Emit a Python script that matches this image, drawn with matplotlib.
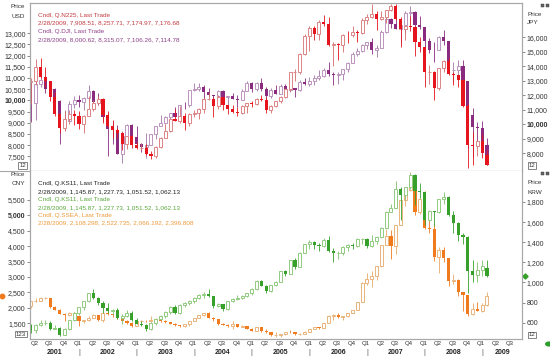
import numpy as np
import pandas as pd
from matplotlib import pyplot as plt
from matplotlib import transforms
from matplotlib.patches import Rectangle, Circle
from matplotlib.lines import Line2D

plt.rcParams['font.family'] = ['Liberation Sans', 'DejaVu Sans']

# monthly bars, Mar 2001 .. Feb 2009
first_month = '2001-03'

dji_open = [10495, 9879, 10735, 10912, 10502, 10523, 9950, 8848, 9075, 9852,
            10022, 9920, 10106, 10404, 9946, 9925, 9243, 8737, 8664, 7592, 8397, 8896,
            8342, 8054, 7891, 7992, 8480, 8850, 8985, 9233, 9416, 9275, 9801, 9782,
            10454, 10488, 10584, 10358, 10226, 10188, 10435, 10140, 10174, 10080, 10027, 10428,
            10783, 10490, 10766, 10504, 10193, 10467, 10275, 10641, 10482, 10569, 10440, 10806,
            10718, 10864, 10993, 11109, 11367, 11168, 11150, 11185, 11381, 11679, 12081, 12221,
            12463, 12621, 12269, 12354, 13063, 13628, 13409, 13212, 13358, 13896, 13930, 13372,
            13265, 12650, 12266, 12263, 12820, 12638, 11350, 11378, 11544, 10851, 9325, 8829,
            8776, 8001]
dji_high = [10858, 10872, 11350, 11076, 10671, 10555, 10019, 9555, 9985, 10184,
            10260, 10145, 10673, 10460, 10341, 9955, 9379, 9077, 8888, 8607, 8946, 8950,
            8870, 8108, 8522, 8510, 8866, 9336, 9284, 9428, 9686, 9813, 9933, 10462,
            10754, 10753, 10679, 10570, 10256, 10479, 10443, 10198, 10345, 10240, 10508, 10868,
            10830, 10841, 10984, 10595, 10542, 10705, 10720, 10720, 10719, 10569, 10931, 10984,
            11048, 11137, 11334, 11425, 11709, 11247, 11262, 11410, 11719, 12163, 12361, 12529,
            12622, 12795, 12476, 13163, 13692, 13693, 14022, 13498, 14000, 14198, 13975, 13779,
            13280, 12767, 12622, 12891, 13136, 12638, 11697, 11782, 11790, 10882, 9654, 9026,
            9088, 8315]
dji_low = [9047, 9106, 10576, 10343, 10176, 9900, 8062, 8659, 9064, 9654,
           9692, 9574, 10031, 9727, 9808, 9066, 7532, 8044, 7591, 7197, 8254, 8232,
           7946, 7673, 7416, 7992, 8289, 8850, 8933, 9013, 9276, 9275, 9590, 9721,
           10405, 10436, 10001, 10200, 9852, 10185, 9906, 9787, 10052, 9708, 10000, 10424,
           10368, 10403, 10404, 10012, 10094, 10271, 10270, 10397, 10378, 10156, 10406, 10700,
           10661, 10689, 10921, 11023, 11085, 10699, 10739, 10925, 11287, 11654, 11986, 12175,
           12311, 12050, 11939, 12354, 13010, 13232, 13212, 12518, 13000, 13570, 12743, 13171,
           11635, 12118, 11731, 12263, 12479, 11288, 10827, 11116, 10365, 7882, 7449, 8149,
           7909, 7106]
dji_close = [9879, 10735, 10912, 10502, 10523, 9950, 8848, 9075, 9852, 10022,
             9920, 10106, 10404, 9946, 9925, 9243, 8737, 8664, 7592, 8397, 8896, 8342,
             8054, 7891, 7992, 8480, 8850, 8985, 9233, 9416, 9275, 9801, 9782, 10454,
             10488, 10584, 10358, 10226, 10188, 10435, 10140, 10174, 10080, 10027, 10428, 10783,
             10490, 10766, 10504, 10193, 10467, 10275, 10641, 10482, 10569, 10440, 10806, 10718,
             10864, 10993, 11109, 11367, 11168, 11150, 11185, 11381, 11679, 12081, 12221, 12463,
             12621, 12269, 12354, 13063, 13628, 13409, 13212, 13358, 13896, 13930, 13372, 13265,
             12650, 12266, 12263, 12820, 12638, 11350, 11378, 11544, 10851, 9325, 8829, 8776,
             8001, 7115]

n225_open = [12883, 12999, 13934, 13262, 12969, 11860, 10713, 9774, 10366, 10697,
             10543, 9997, 10587, 11025, 11492, 11764, 10621, 9877, 9619, 9383, 8640, 9215,
             8579, 8340, 8363, 7973, 7831, 8425, 9083, 9563, 10344, 10219, 10560, 10101,
             10677, 10784, 11042, 11715, 11762, 11236, 11859, 11326, 11082, 10824, 10771, 11231,
             11489, 11388, 11741, 11669, 11009, 11277, 11584, 11900, 12414, 13574, 13607, 14872,
             16111, 16650, 16205, 17060, 16906, 15467, 15505, 15457, 16141, 16128, 16399, 16274,
             17226, 17383, 17604, 17288, 17400, 17876, 18138, 17249, 16569, 16786, 16738, 15681,
             15308, 13592, 13604, 12526, 13850, 14339, 13481, 13377, 13073, 11260, 8577, 8512,
             8860, 7909]
n225_high = [13200, 14529, 14556, 13973, 13014, 12213, 10800, 10915, 10986, 10982,
             10900, 10630, 11919, 11661, 11979, 11800, 10931, 10268, 9771, 9441, 9215, 9295,
             8810, 8700, 8650, 8150, 8500, 9137, 10050, 10400, 11033, 11238, 10800, 10750,
             11000, 11100, 11800, 12195, 11900, 11988, 11900, 11350, 11300, 11200, 11300, 11500,
             11600, 11800, 12000, 11900, 11300, 11600, 11950, 12500, 13617, 13800, 14900, 16200,
             16800, 16800, 17200, 17563, 17400, 15700, 15600, 16200, 16400, 16800, 16500, 17300,
             17600, 18300, 17800, 17800, 17900, 18300, 18300, 17400, 16800, 17500, 16800, 16000,
             15350, 14100, 13650, 13900, 14400, 14600, 13600, 13400, 13100, 11400, 9500, 8900,
             9300, 8258]
n225_low = [11434, 12737, 13190, 12554, 11593, 10590, 9382, 9504, 10035, 9924,
            9697, 9420, 10561, 10884, 11328, 10074, 9808, 9075, 9075, 8197, 8303, 8360,
            8300, 8200, 7850, 7604, 7700, 8400, 9050, 9500, 10200, 10100, 9614, 9900,
            10500, 10350, 10800, 11650, 10505, 11050, 11000, 10687, 10800, 10575, 10700, 10800,
            11200, 11300, 11600, 10800, 10800, 11200, 11500, 11800, 12300, 13000, 13500, 14800,
            15059, 15800, 15800, 16800, 15400, 14046, 14400, 15000, 15600, 16000, 15700, 16200,
            16900, 17300, 16500, 17200, 17000, 17800, 17200, 15300, 15800, 16400, 14700, 15000,
            12573, 12800, 11691, 12400, 13600, 13400, 12700, 12600, 11200, 6995, 7163, 7800,
            7670, 7175]
n225_close = [12999, 13934, 13262, 12969, 11860, 10713, 9774, 10366, 10697, 10543,
              9997, 10587, 11025, 11492, 11764, 10621, 9877, 9619, 9383, 8640, 9215, 8579,
              8340, 8363, 7973, 7831, 8425, 9083, 9563, 10344, 10219, 10560, 10101, 10677,
              10784, 11042, 11715, 11762, 11236, 11859, 11326, 11082, 10824, 10771, 11231, 11489,
              11388, 11741, 11669, 11009, 11277, 11584, 11900, 12414, 13574, 13607, 14872, 16111,
              16650, 16205, 17060, 16906, 15467, 15505, 15457, 16141, 16128, 16399, 16274, 17226,
              17383, 17604, 17288, 17400, 17876, 18138, 17249, 16569, 16786, 16738, 15681, 15308,
              13592, 13604, 12526, 13850, 14339, 13481, 13377, 13073, 11260, 8577, 8512, 8860,
              7994, 7177]

ks_open = [579, 523, 577, 595, 596, 541, 545, 479, 535, 627,
           693, 757, 819, 895, 845, 796, 742, 716, 729, 646, 669, 694,
           627, 591, 576, 535, 599, 634, 670, 708, 760, 697, 778, 796,
           811, 849, 880, 883, 862, 771, 785, 735, 817, 835, 845, 867,
           896, 932, 1011, 965, 912, 970, 1008, 1110, 1083, 1221, 1158, 1297,
           1379, 1399, 1371, 1359, 1419, 1317, 1295, 1297, 1352, 1371, 1364, 1432,
           1434, 1360, 1417, 1452, 1542, 1700, 1743, 1933, 1873, 1946, 2064, 1906,
           1897, 1624, 1711, 1704, 1825, 1852, 1674, 1594, 1474, 1448, 1113, 1076,
           1124, 1146]
ks_high = [590, 590, 630, 630, 615, 575, 560, 545, 630, 705,
           760, 820, 900, 937, 860, 815, 800, 740, 745, 690, 730, 720,
           650, 620, 590, 610, 640, 680, 720, 770, 780, 790, 810, 830,
           860, 890, 905, 936, 870, 800, 790, 820, 850, 880, 880, 900,
           940, 1020, 1022, 975, 975, 1010, 1115, 1125, 1225, 1240, 1300, 1380,
           1420, 1410, 1390, 1440, 1465, 1340, 1310, 1360, 1380, 1390, 1440, 1440,
           1440, 1470, 1460, 1550, 1710, 1780, 2005, 1950, 1950, 2085, 2080, 1990,
           1900, 1720, 1715, 1830, 1900, 1855, 1710, 1600, 1490, 1460, 1220, 1200,
           1228, 1228]
ks_low = [500, 493, 570, 580, 530, 535, 463, 475, 530, 620,
          680, 730, 810, 840, 775, 700, 700, 680, 640, 584, 660, 620,
          585, 570, 515, 530, 580, 625, 650, 690, 690, 690, 760, 780,
          800, 840, 850, 860, 745, 760, 720, 730, 810, 830, 840, 860,
          880, 925, 960, 900, 905, 960, 1000, 1060, 1080, 1130, 1150, 1290,
          1330, 1330, 1310, 1350, 1300, 1200, 1230, 1270, 1310, 1330, 1350, 1380,
          1345, 1355, 1380, 1440, 1540, 1700, 1740, 1620, 1820, 1930, 1770, 1840,
          1570, 1610, 1560, 1690, 1780, 1660, 1490, 1410, 1380, 892, 1000, 1000,
          1069, 1052]
ks_close = [523, 577, 595, 596, 541, 545, 479, 535, 627, 693,
            757, 819, 895, 845, 796, 742, 716, 729, 646, 669, 694, 627,
            591, 576, 535, 599, 634, 670, 708, 760, 697, 778, 796, 811,
            849, 880, 883, 862, 771, 785, 735, 817, 835, 845, 867, 896,
            932, 1011, 965, 912, 970, 1008, 1110, 1083, 1221, 1158, 1297, 1379,
            1399, 1371, 1359, 1419, 1317, 1295, 1297, 1352, 1371, 1364, 1432, 1434,
            1360, 1417, 1452, 1542, 1700, 1743, 1933, 1873, 1946, 2064, 1906, 1897,
            1624, 1711, 1704, 1825, 1852, 1674, 1594, 1474, 1448, 1113, 1076, 1124,
            1162, 1062]

ss_open = [2057, 2218, 2225, 2325, 2329, 2016, 1926, 1810, 1775, 1834,
           1728, 1567, 1601, 1683, 1761, 1592, 1820, 1786, 1754, 1661, 1583, 1508,
           1426, 1575, 1588, 1586, 1597, 1655, 1560, 1551, 1493, 1435, 1415, 1467,
           1572, 1670, 1759, 1829, 1675, 1633, 1469, 1455, 1409, 1467, 1386, 1408,
           1329, 1252, 1371, 1240, 1217, 1114, 1135, 1137, 1221, 1214, 1148, 1154,
           1219, 1321, 1364, 1363, 1512, 1723, 1756, 1694, 1742, 1840, 1930, 2204,
           2809, 2925, 3025, 3343, 4033, 4316, 4012, 4695, 5480, 5830, 6253, 5116,
           5525, 4602, 4566, 3647, 3878, 3605, 2873, 2915, 2517, 2409, 1815, 1965,
           1912, 2108]
ss_high = [2230, 2310, 2344, 2357, 2331, 2058, 1974, 1838, 1865, 1880,
           1733, 1617, 1733, 1785, 1764, 1835, 1838, 1796, 1764, 1670, 1617, 1533,
           1586, 1596, 1607, 1731, 1670, 1659, 1607, 1554, 1502, 1449, 1481, 1575,
           1680, 1775, 1848, 1872, 1690, 1648, 1523, 1470, 1575, 1470, 1449, 1418,
           1344, 1386, 1376, 1313, 1218, 1203, 1145, 1229, 1284, 1218, 1176, 1239,
           1323, 1371, 1365, 1517, 1764, 1811, 1845, 1743, 1848, 1932, 2205, 2835,
           3144, 3203, 3360, 4043, 4553, 4528, 4696, 5492, 5840, 6390, 6260, 5565,
           5799, 4935, 4696, 3975, 3975, 3629, 3100, 2940, 2520, 2415, 2142, 2205,
           2142, 2523]
ss_low = [1988, 2184, 2210, 2279, 1995, 1922, 1785, 1590, 1743, 1701,
          1406, 1512, 1575, 1659, 1575, 1528, 1754, 1701, 1649, 1575, 1470, 1377,
          1407, 1544, 1544, 1554, 1575, 1544, 1523, 1481, 1428, 1372, 1382, 1428,
          1565, 1659, 1743, 1659, 1575, 1460, 1439, 1365, 1323, 1365, 1365, 1322,
          1239, 1250, 1223, 1191, 1095, 1048, 1054, 1129, 1197, 1120, 1128, 1145,
          1218, 1313, 1313, 1360, 1512, 1617, 1659, 1617, 1712, 1827, 1922, 2195,
          2730, 2668, 2919, 3339, 4032, 3574, 3741, 4694, 5303, 5775, 5017, 5053,
          4547, 4410, 3525, 3140, 3500, 2694, 2786, 2398, 1892, 1748, 1762, 1905,
          1880, 2066]
ss_close = [2218, 2225, 2325, 2329, 2016, 1926, 1810, 1775, 1834, 1728,
            1567, 1601, 1683, 1761, 1592, 1820, 1786, 1754, 1661, 1583, 1508, 1426,
            1575, 1588, 1586, 1597, 1655, 1560, 1551, 1493, 1435, 1415, 1467, 1572,
            1670, 1759, 1829, 1675, 1633, 1469, 1455, 1409, 1467, 1386, 1408, 1329,
            1252, 1371, 1240, 1217, 1114, 1135, 1137, 1221, 1214, 1148, 1154, 1219,
            1321, 1364, 1363, 1512, 1723, 1756, 1694, 1742, 1840, 1930, 2204, 2809,
            2925, 3025, 3343, 4033, 4316, 4012, 4695, 5480, 5830, 6253, 5116, 5525,
            4602, 4566, 3647, 3878, 3605, 2873, 2915, 2517, 2409, 1815, 1965, 1912,
            2090, 2397]

usd_ticks = [7500, 8000, 8500, 9000, 9500, 10000, 10500, 11000, 11500, 12000, 12500, 13000]
jpy_ticks = [8000, 9000, 10000, 11000, 12000, 13000, 14000, 15000, 16000]
cny_ticks = [1500, 2000, 2500, 3000, 3500, 4000, 4500, 5000, 5500]
krw_ticks = [600, 800, 1000, 1200, 1400, 1600, 1800]

legend_top = [("Cndl, Q.N225, Last Trade", '#c23a40'),
              ("2/28/2009, 7,908.51, 8,257.71, 7,174.97, 7,176.68", '#c23a40'),
              ("Cndl, Q.DJI, Last Trade", '#8e3f88'),
              ("2/28/2009, 8,000.62, 8,315.07, 7,106.26, 7,114.78", '#8e3f88')]
legend_bot = [("Cndl, Q.KS11, Last Trade", '#222222'),
              ("2/28/2009, 1,145.87, 1,227.73, 1,051.52, 1,062.13", '#222222'),
              ("Cndl, Q.KS11, Last Trade", '#5aa83c'),
              ("2/28/2009, 1,145.87, 1,227.73, 1,051.52, 1,062.13", '#5aa83c'),
              ("Cndl, Q.SSEA, Last Trade", '#ec9a3c'),
              ("2/28/2009, 2,108.298, 2,522.735, 2,066.192, 2,396.808", '#ec9a3c')]

W, H = 550, 357
GRID = '#a8a8a8'
TXT = '#333333'


def px(x, y):
    return x / W, 1 - y / H


def candles(ax, o, h, l, c, fill, hollow, wick_up, z=2):
    o, h, l, c = (np.asarray(v, dtype=float) for v in (o, h, l, c))
    x = np.arange(len(o))
    up = c >= o
    cols = [wick_up if u else fill for u in up]
    ax.vlines(x, l, h, colors=cols, lw=0.6, zorder=z)
    ax.bar(x[up], (c - o)[up], bottom=o[up], width=0.62, facecolor='white',
           edgecolor=hollow, linewidth=0.7, zorder=z + 0.1)
    ax.bar(x[~up], (o - c)[~up], bottom=c[~up], width=0.66, color=fill,
           linewidth=0, zorder=z + 0.1)


def style_axis(ax, side, ticks):
    ax.set_yticks(ticks)
    labels = ax.set_yticklabels([f"{t:,}" for t in ticks])
    for lab in labels:
        if lab.get_text() in ("10,000", "5,000"):
            lab.set_fontweight('bold')
            lab.set_fontsize(5.6)
    ax.tick_params(axis='y', which='both', direction='out', length=2.2, width=0.6,
                   color='#777777', labelsize=5, labelcolor=TXT, pad=1,
                   left=(side == 'left'), labelleft=(side == 'left'),
                   right=(side == 'right'), labelright=(side == 'right'))
    ax.tick_params(axis='x', bottom=False, labelbottom=False)
    for sp in ax.spines.values():
        sp.set_color(GRID)
        sp.set_linewidth(0.8)


fig = plt.figure(figsize=(5.5, 3.57), dpi=100)
fig.patch.set_facecolor('white')

x0, x1 = 30, 522
ax_top = fig.add_axes([x0 / W, 1 - 170.5 / H, (x1 - x0) / W, 167.8 / H])
ax_top_r = ax_top.twinx()
ax_bot = fig.add_axes([x0 / W, 1 - 339 / H, (x1 - x0) / W, 168 / H])
ax_bot_r = ax_bot.twinx()

n = len(dji_close)
xmin, xmax = -0.19, 102.3
for a in (ax_top, ax_top_r, ax_bot, ax_bot_r):
    a.set_xlim(xmin, xmax)

ax_top.set_ylim(6862, 14366)
ax_top_r.set_ylim(6814, 18386)
ax_bot.set_ylim(991, 6435)
ax_bot_r.set_ylim(438, 2108)

candles(ax_top, dji_open, dji_high, dji_low, dji_close, '#8a2b7f', '#bb94bd', '#a276a4')
candles(ax_top_r, n225_open, n225_high, n225_low, n225_close, '#e6141d', '#dc8686', '#d46a6a')
candles(ax_bot, ss_open, ss_high, ss_low, ss_close, '#f07a1e', '#eab47c', '#e8a868')
candles(ax_bot_r, ks_open, ks_high, ks_low, ks_close, '#36a02b', '#92cb80', '#7fbf6c')

style_axis(ax_top, 'left', usd_ticks)
style_axis(ax_top_r, 'right', jpy_ticks)
style_axis(ax_bot, 'left', cny_ticks)
style_axis(ax_bot_r, 'right', krw_ticks)
ax_bot.spines['top'].set_visible(False)
ax_bot_r.spines['top'].set_visible(False)

# separator line between panels, running to the left edge
fig.add_artist(Line2D([0, x0 / W], [1 - 170.5 / H] * 2, color=GRID, lw=0.8))

# currency captions
for (tx, ty), s in [((25, 6), "Price"), ((25, 16), "USD"),
                    ((25, 175), "Price"), ((25, 184), "CNY")]:
    fig.text(*px(tx, ty), s, ha='right', va='center', fontsize=4.6, color=TXT)
for (tx, ty), s in [((527, 14), "Price"), ((527, 23), "JPY"),
                    ((527, 182), "Price"), ((527, 192), "KRW")]:
    fig.text(*px(tx, ty), s, ha='left', va='center', fontsize=4.6, color=TXT)

# legends
for i, (s, col) in enumerate(legend_top):
    fig.text(*px(38, 15 + i * 8.2), s, ha='left', va='center', fontsize=4.6, color=col)
for i, (s, col) in enumerate(legend_bot):
    fig.text(*px(38, 184 + i * 7.8), s, ha='left', va='center', fontsize=4.6, color=col)

# small zoom boxes
for (bx, by), s in [((22.5, 165.5), "12"), ((532, 165.5), "12"),
                    ((21, 334), "123"), ((532, 335), "12")]:
    fig.text(*px(bx, by), s, ha='center', va='center', fontsize=4.4, color=TXT,
             bbox=dict(boxstyle='square,pad=0.12', fc='white', ec='#555555', lw=0.5))

# window icons at the right
for by in (4, 172):
    for bx in (541, 546):
        fig.add_artist(Rectangle(px(bx, by + 3), 3 / W, 3 / H, fc='#666666', ec='#333333', lw=0.3))
fig.add_artist(Circle(px(549, 344), 4 / W, fc='#2e9e2e', ec='none'))

# last value markers
tr_r = transforms.blended_transform_factory(ax_bot_r.transAxes, ax_bot_r.transData)
ax_bot_r.plot([1.007], [ks_close[-1]], marker='D', ms=2.6, color='#36a02b',
              transform=tr_r, clip_on=False)
tr_l = transforms.blended_transform_factory(ax_bot.transAxes, ax_bot.transData)
ax_bot.plot([-0.057], [ss_close[-1]], marker='o', ms=3.2, color='#f07a1e',
            transform=tr_l, clip_on=False)

# date axis: quarters and years
months = pd.period_range(first_month, periods=104, freq='M')
tr_x = transforms.blended_transform_factory(ax_bot.transData, fig.transFigure)
for i, m in enumerate(months):
    if i > xmax:
        break
    if m.month in (1, 4, 7, 10):
        fig.text(i - 0.2, 1 - 344 / H, f"Q{m.quarter}", transform=tr_x, ha='center',
                 va='center', fontsize=4.3, color=TXT)
    if m.month == 1:
        fig.text(i, 1 - 353 / H, "|", transform=tr_x, ha='center', va='center',
                 fontsize=5, color='#555555')
years = sorted(set(m.year for m in months))
for y in years:
    idx = [i for i, m in enumerate(months) if m.year == y]
    a = max(idx[0], xmin)
    b = min(idx[-1] + 1, xmax)
    if b <= a:
        continue
    fig.text((a + b) / 2, 1 - 353 / H, str(y), transform=tr_x, ha='center',
             va='center', fontsize=5, fontweight='bold', color='#222222')

fig.savefig('out.png', dpi=100)
